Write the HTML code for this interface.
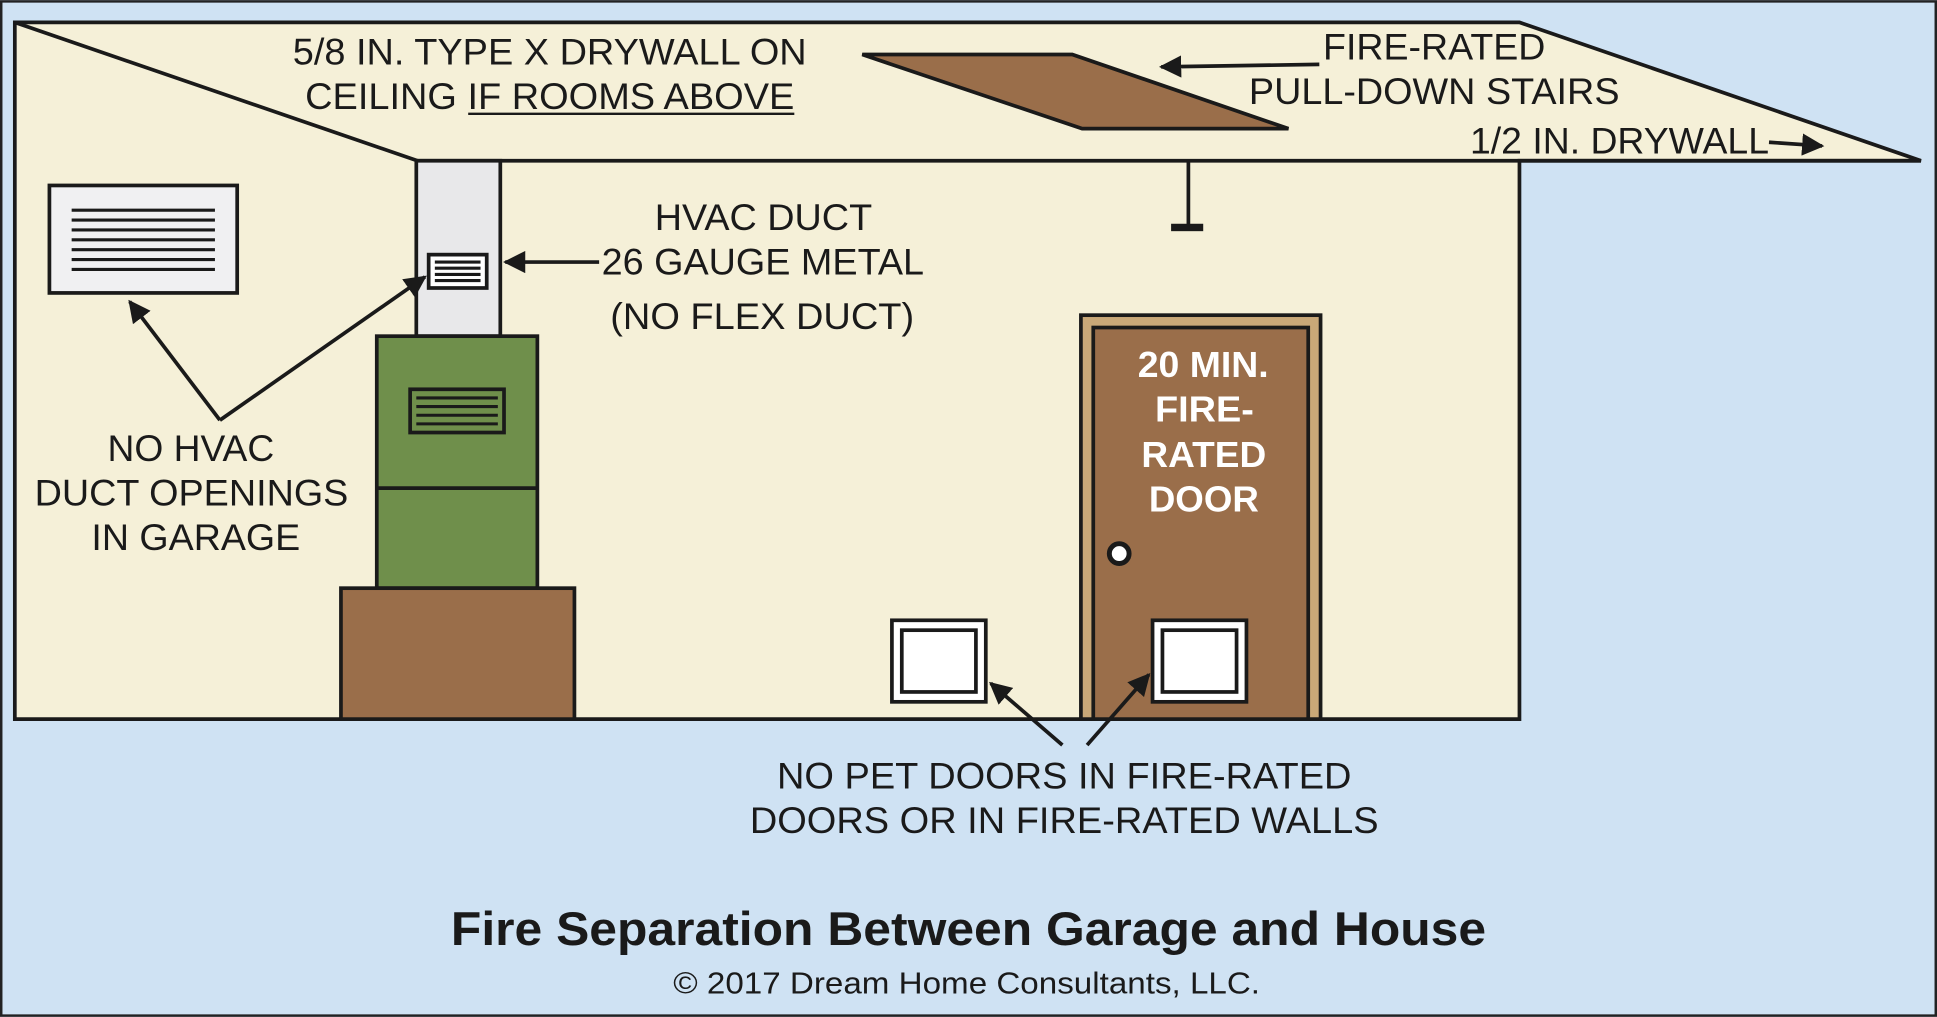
<!DOCTYPE html>
<html><head><style>html,body{margin:0;padding:0;background:#cfe2f3}svg{display:block}</style></head>
<body>
<svg width="1937" height="1017" viewBox="0 0 1568 823" xmlns="http://www.w3.org/2000/svg" font-family="Liberation Sans, sans-serif">
<defs><marker id="a" viewBox="0 0 10 10" refX="9" refY="5" markerWidth="6" markerHeight="6" orient="auto"><path d="M0,0L10,5L0,10z" fill="#1a1a1a"/></marker></defs>
<rect x="1" y="1" width="1566" height="821" fill="#cfe2f3" stroke="#222" stroke-width="2"/>
<polygon points="12,18 1230,18 1555,130 1230,130 1230,582 12,582" fill="#f5f0d8" stroke="#1a1a1a" stroke-width="3"/>
<line x1="12" y1="18" x2="338" y2="130" stroke="#1a1a1a" stroke-width="3"/>
<line x1="338" y1="130" x2="1555" y2="130" stroke="#1a1a1a" stroke-width="3"/>
<polygon points="698,44 868,44 1043,104 876,104" fill="#9a6e4a" stroke="#1a1a1a" stroke-width="3"/>
<line x1="1068" y1="52" x2="940" y2="54" stroke="#1a1a1a" stroke-width="3" marker-end="url(#a)"/>
<line x1="1432" y1="115" x2="1475" y2="118" stroke="#1a1a1a" stroke-width="3" marker-end="url(#a)"/>
<line x1="962" y1="130" x2="962" y2="183" stroke="#1a1a1a" stroke-width="3"/>
<rect x="948" y="181" width="26" height="6" fill="#1a1a1a"/>
<rect x="337" y="130" width="68" height="142" fill="#e8e8ea" stroke="#1a1a1a" stroke-width="3"/>
<rect x="347" y="206" width="47" height="27" fill="#fff" stroke="#1a1a1a" stroke-width="3"/>
<g stroke="#1a1a1a" stroke-width="2.5"><line x1="352" y1="212" x2="389" y2="212"/><line x1="352" y1="217" x2="389" y2="217"/><line x1="352" y1="222" x2="389" y2="222"/><line x1="352" y1="227" x2="389" y2="227"/></g>
<rect x="305" y="272" width="130" height="204" fill="#6f8f4b" stroke="#1a1a1a" stroke-width="3"/>
<line x1="305" y1="395" x2="435" y2="395" stroke="#1a1a1a" stroke-width="3"/>
<rect x="332" y="315" width="76" height="35" fill="#6f8f4b" stroke="#1a1a1a" stroke-width="3"/>
<g stroke="#1a1a1a" stroke-width="2.5"><line x1="337" y1="322" x2="403" y2="322"/><line x1="337" y1="329" x2="403" y2="329"/><line x1="337" y1="336" x2="403" y2="336"/><line x1="337" y1="343" x2="403" y2="343"/></g>
<rect x="276" y="476" width="189" height="106" fill="#9a6e4a" stroke="#1a1a1a" stroke-width="3"/>
<rect x="40" y="150" width="152" height="87" fill="#f0f0f2" stroke="#1a1a1a" stroke-width="3"/>
<g stroke="#1a1a1a" stroke-width="2.5"><line x1="58" y1="170" x2="174" y2="170"/><line x1="58" y1="178" x2="174" y2="178"/><line x1="58" y1="186" x2="174" y2="186"/><line x1="58" y1="194" x2="174" y2="194"/><line x1="58" y1="202" x2="174" y2="202"/><line x1="58" y1="210" x2="174" y2="210"/><line x1="58" y1="218" x2="174" y2="218"/></g>
<line x1="178" y1="340" x2="105" y2="244" stroke="#1a1a1a" stroke-width="3" marker-end="url(#a)"/>
<line x1="178" y1="340" x2="344" y2="224" stroke="#1a1a1a" stroke-width="3" marker-end="url(#a)"/>
<line x1="485" y1="212" x2="409" y2="212" stroke="#1a1a1a" stroke-width="3" marker-end="url(#a)"/>
<rect x="875" y="255" width="194" height="327" fill="#c9a878" stroke="#1a1a1a" stroke-width="3"/>
<rect x="885" y="265" width="174" height="317" fill="#9a6e4a" stroke="#1a1a1a" stroke-width="3"/>
<circle cx="906" cy="448" r="8" fill="#fff" stroke="#1a1a1a" stroke-width="4"/>
<rect x="722" y="502" width="76" height="66" fill="#fff" stroke="#1a1a1a" stroke-width="3"/>
<rect x="730" y="510" width="60" height="50" fill="#fff" stroke="#1a1a1a" stroke-width="3"/>
<rect x="933" y="502" width="76" height="66" fill="#fff" stroke="#1a1a1a" stroke-width="3"/>
<rect x="941" y="510" width="60" height="50" fill="#fff" stroke="#1a1a1a" stroke-width="3"/>
<line x1="860" y1="603" x2="802" y2="553" stroke="#1a1a1a" stroke-width="3" marker-end="url(#a)"/>
<line x1="880" y1="603" x2="930" y2="546" stroke="#1a1a1a" stroke-width="3" marker-end="url(#a)"/>
<line x1="379" y1="92" x2="643" y2="92" stroke="#1a1a1a" stroke-width="2"/>
<g fill="#1a1a1a" font-size="30" lengthAdjust="spacingAndGlyphs">
<text x="237" y="52" textLength="416" lengthAdjust="spacingAndGlyphs">5/8 IN. TYPE X DRYWALL ON</text>
<text x="247" y="88" textLength="396" lengthAdjust="spacingAndGlyphs">CEILING IF ROOMS ABOVE</text>
<text x="1071" y="48" textLength="180" lengthAdjust="spacingAndGlyphs">FIRE-RATED</text>
<text x="1011" y="84" textLength="300" lengthAdjust="spacingAndGlyphs">PULL-DOWN STAIRS</text>
<text x="1190" y="124" textLength="242" lengthAdjust="spacingAndGlyphs">1/2 IN. DRYWALL</text>
<text x="530" y="186" textLength="176" lengthAdjust="spacingAndGlyphs">HVAC DUCT</text>
<text x="487" y="222" textLength="261" lengthAdjust="spacingAndGlyphs">26 GAUGE METAL</text>
<text x="494" y="266" textLength="246" lengthAdjust="spacingAndGlyphs">(NO FLEX DUCT)</text>
<text x="87" y="373" textLength="135" lengthAdjust="spacingAndGlyphs">NO HVAC</text>
<text x="28" y="409" textLength="254" lengthAdjust="spacingAndGlyphs">DUCT OPENINGS</text>
<text x="74" y="445" textLength="169" lengthAdjust="spacingAndGlyphs">IN GARAGE</text>
<text x="629" y="638" textLength="465" lengthAdjust="spacingAndGlyphs">NO PET DOORS IN FIRE-RATED</text>
<text x="607" y="674" textLength="509" lengthAdjust="spacingAndGlyphs">DOORS OR IN FIRE-RATED WALLS</text>
</g>
<g fill="#fff" font-size="29" font-weight="bold">
<text x="921" y="305" textLength="106" lengthAdjust="spacingAndGlyphs">20 MIN.</text>
<text x="935" y="341" textLength="80" lengthAdjust="spacingAndGlyphs">FIRE-</text>
<text x="924" y="378" textLength="101" lengthAdjust="spacingAndGlyphs">RATED</text>
<text x="930" y="414" textLength="89" lengthAdjust="spacingAndGlyphs">DOOR</text>
</g>
<text x="365" y="765" font-size="38" font-weight="bold" fill="#1a1a1a" textLength="838" lengthAdjust="spacingAndGlyphs">Fire Separation Between Garage and House</text>
<text x="545" y="804" font-size="25" fill="#1a1a1a" textLength="475" lengthAdjust="spacingAndGlyphs">© 2017 Dream Home Consultants, LLC.</text>
</svg>
</body></html>
